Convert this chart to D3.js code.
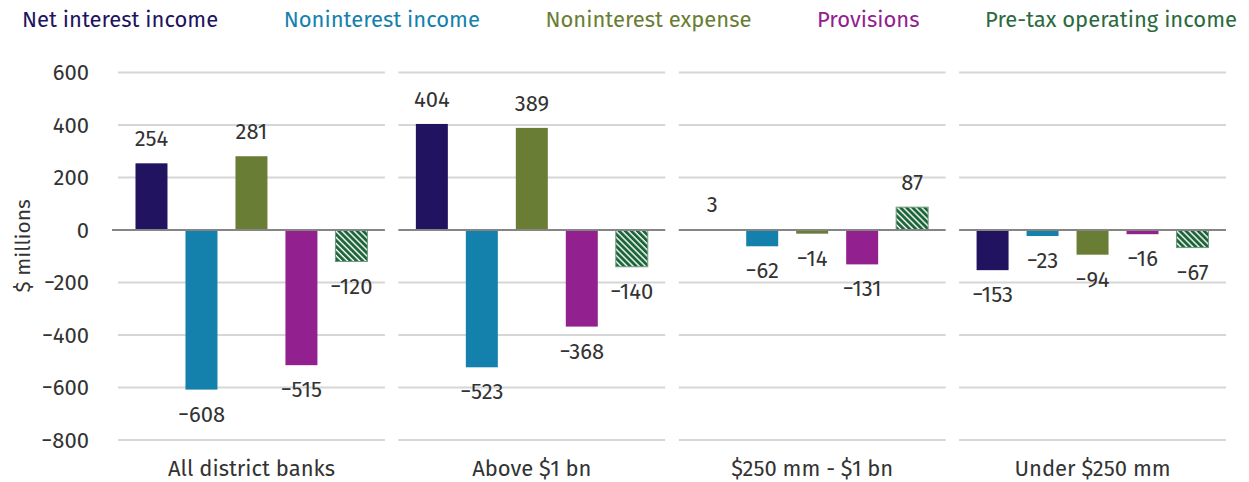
<!DOCTYPE html>
<html>
<head>
<meta charset="utf-8">
<script src="https://cdn.jsdelivr.net/npm/d3@7"></script>
<style>
	body { margin: 0; background: white; }
	text { font-family: "Fira Sans", Roboto, "Open Sans", sans-serif; }
</style>
</head>
<body>
<svg id="plot" width="1249" height="482"></svg>
<script>
const groups = ["All district banks", "Above $1 bn", "$250 mm - $1 bn", "Under $250 mm"];
const seriesNames = ["Net interest income", "Noninterest income", "Noninterest expense", "Provisions", "Pre-tax operating income"];
const netInterest = [254, 404, 3, -153];
const nonintIncome = [-608, -523, -62, -23];
const nonintExpense = [281, 389, -14, -94];
const provisions = [-515, -368, -131, -16];
const preTax = [-120, -140, 87, -67];
const yTicks = [600, 400, 200, 0, -200, -400, -600, -800];

const colors = ["#21135f", "#1481ad", "#6a7d34", "#93208f", "#1b6538"];
const textColors = ["#21135f", "#1481ad", "#6a7d34", "#93208f", "#2b6a40"];
const seriesValues = [netInterest, nonintIncome, nonintExpense, provisions, preTax];

const svg = d3.select("#plot");

const fmt = v => (v < 0 ? "\u2212" : "") + Math.abs(v);

const x0 = d3.scaleBand()
	.domain(groups)
	.range([118, 1226])
	.paddingInner(0.048);
const x1 = d3.scaleBand()
	.domain(seriesNames)
	.range([0, x0.bandwidth()])
	.paddingInner(0.36)
	.paddingOuter(0.35);
const y = d3.scaleLinear()
	.domain([-800, 600])
	.range([440, 72.5]);

// hatch for pre-tax bars
const pat = svg.append("defs").append("pattern")
	.attr("id", "hatch")
	.attr("patternUnits", "userSpaceOnUse")
	.attr("width", 4.3)
	.attr("height", 4.3)
	.attr("patternTransform", "rotate(-45)");
pat.append("rect").attr("width", 4.3).attr("height", 4.3).attr("fill", "white");
pat.append("rect").attr("width", 2.9).attr("height", 4.3).attr("fill", colors[4]);

// gridlines per panel
const panel = svg.selectAll("g.panel").data(groups)
	.enter().append("g")
	.attr("class", "panel")
	.attr("transform", g => `translate(${x0(g)},0)`);

panel.selectAll("line.grid").data(yTicks.filter(t => t !== 0))
	.enter().append("line")
	.attr("class", "grid")
	.attr("x1", 0).attr("x2", x0.bandwidth())
	.attr("y1", d => y(d)).attr("y2", d => y(d))
	.attr("stroke", "#d6d6d6")
	.attr("stroke-width", 2);

// y tick labels
svg.selectAll("text.ytick").data(yTicks)
	.enter().append("text")
	.attr("class", "ytick")
	.attr("x", 89)
	.attr("y", d => y(d))
	.attr("dy", "0.36em")
	.attr("text-anchor", "end")
	.attr("font-size", 22)
	.attr("fill", "#333")
	.text(fmt);

svg.append("text")
	.attr("transform", `translate(30,${y(-60)}) rotate(-90)`)
	.attr("text-anchor", "middle")
	.attr("font-size", 21)
	.attr("fill", "#333")
	.text("$ millions");

// bars
const cells = panel.selectAll("g.cell")
	.data((g, gi) => seriesNames.map((s, si) => ({s: s, si: si, v: seriesValues[si][gi]})))
	.enter().append("g")
	.attr("class", "cell");

cells.append("rect")
	.attr("x", d => x1(d.s))
	.attr("width", x1.bandwidth())
	.attr("y", d => y(Math.max(0, d.v)))
	.attr("height", d => Math.abs(y(d.v) - y(0)))
	.attr("fill", d => d.si === 4 ? "url(#hatch)" : colors[d.si])
	.attr("stroke", d => d.si === 4 ? "#6f9a7e" : "none")
	.attr("stroke-width", 1);

cells.append("text")
	.attr("x", d => x1(d.s) + x1.bandwidth() / 2)
	.attr("y", d => d.v >= 0 ? y(d.v) - 17 : y(d.v) + 32)
	.attr("text-anchor", "middle")
	.attr("font-size", 22)
	.attr("fill", "#333")
	.text(d => fmt(d.v));

// zero line
panel.append("line")
	.attr("x1", (g, i) => i === 0 ? -6 : 0).attr("x2", x0.bandwidth())
	.attr("y1", y(0)).attr("y2", y(0))
	.attr("stroke", "#858585")
	.attr("stroke-width", 2);

// category labels
panel.append("text")
	.attr("x", x0.bandwidth() / 2)
	.attr("y", 476)
	.attr("text-anchor", "middle")
	.attr("font-size", 22)
	.attr("fill", "#333")
	.text(g => g);

// legend, spread across the top
const legend = svg.selectAll("text.legend").data(seriesNames)
	.enter().append("text")
	.attr("class", "legend")
	.attr("y", 27)
	.attr("font-size", 22)
	.attr("fill", (d, i) => textColors[i])
	.text(d => d);

const widths = legend.nodes().map(n => n.getComputedTextLength());
const gap = (1237 - 22 - d3.sum(widths)) / (widths.length - 1);
let cursor = 22;
legend.attr("x", (d, i) => {
	const pos = cursor;
	cursor += widths[i] + gap;
	return pos;
});
</script>
</body>
</html>
